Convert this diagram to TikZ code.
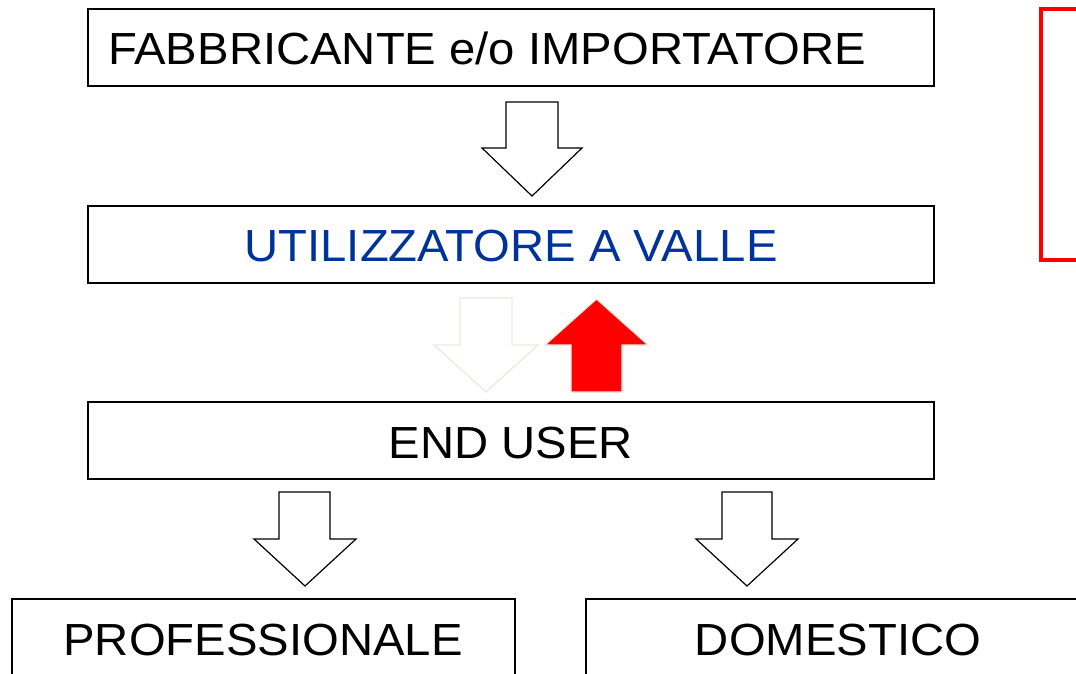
\documentclass[tikz,border=0pt]{standalone}
\usepackage{fontspec}
\setmainfont{Liberation Sans}
\definecolor{txtblue}{HTML}{003399}
\definecolor{paleline}{HTML}{EEEADF}
\definecolor{alarmred}{HTML}{FF0000}
\begin{document}
\begin{tikzpicture}[x=1pt,y=-1pt,
  box/.style={draw=black,line width=1.4pt,fill=white},
  lbl/.style={font=\fontsize{45}{45}\selectfont,inner sep=0pt,anchor=base,xscale=1.05},
  blockarrow/.style={draw=black,line width=1.2pt,fill=white,line join=miter},
  palearrow/.style={draw=paleline,line width=1.4pt,fill=white,line join=miter},
  redarrow/.style={draw=paleline,line width=1.2pt,fill=alarmred,line join=miter}]
\useasboundingbox (0,0) rectangle (1076,673);
\begin{scope}
\clip (0,0) rectangle (1076,673);
% boxes
\draw[box] (88,9) rectangle (934,86);
\node[lbl,anchor=base west] (fab) at (108,64) {FABBRICANTE e/o IMPORTATORE};
\draw[box] (88,206) rectangle (934,283);
\node[lbl,text=txtblue] (util) at (511,261) {UTILIZZATORE A VALLE};
\draw[box] (88,402) rectangle (934,479);
\node[lbl] (end) at (511,458) {END USER};
\draw[box] (12,599) rectangle (515,690);
\node[lbl] (prof) at (263,655) {PROFESSIONALE};
\draw[box] (586,599) rectangle (1100,690);
\node[lbl] (dom) at (838,655) {DOMESTICO};
% red frame
\draw[draw=alarmred,line width=4pt] (1040.5,8.5) rectangle (1100,260);
% block arrows
\draw[blockarrow] (506,102) -- (558,102) -- (558,148) -- (582,148) -- (532,196) -- (482,148) -- (506,148) -- cycle;
\draw[palearrow] (460,298) -- (512,298) -- (512,345) -- (538,345) -- (486,392) -- (434,345) -- (460,345) -- cycle;
\draw[redarrow] (571,392) -- (622,392) -- (622,345) -- (648,345) -- (596.5,299) -- (545,345) -- (571,345) -- cycle;
\draw[blockarrow] (279,492) -- (330,492) -- (330,539) -- (356,539) -- (305,586) -- (254,539) -- (279,539) -- cycle;
\draw[blockarrow] (722,492) -- (772,492) -- (772,539) -- (798,539) -- (747,586) -- (696,539) -- (722,539) -- cycle;
\end{scope}
\end{tikzpicture}
\end{document}
